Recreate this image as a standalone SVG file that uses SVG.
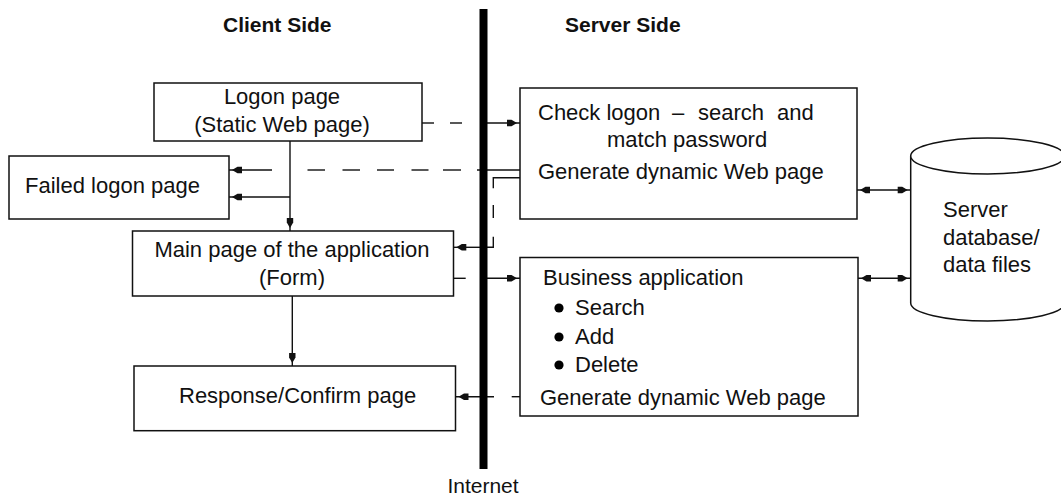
<svg xmlns="http://www.w3.org/2000/svg" width="1061" height="498" viewBox="0 0 1061 498">
<style>
.box{fill:#fff;stroke:#111;stroke-width:1.5}
.t{font-family:"Liberation Sans",Arial,sans-serif;font-size:22px;fill:#111}
.h{font-family:"Liberation Sans",Arial,sans-serif;font-size:21px;font-weight:bold;fill:#111}
.ln{stroke:#111;stroke-width:1.4;fill:none}
.arr{marker-end:url(#ah)}
.dbl{marker-start:url(#ah);marker-end:url(#ah)}
</style>
<defs>
<marker id="ah" viewBox="0 0 10 8" markerWidth="10" markerHeight="8" refX="13" refY="4" orient="auto-start-reverse" markerUnits="userSpaceOnUse" overflow="visible">
<path d="M0,0.8 L4.5,0.8 L10,4 L4.5,7.2 L0,7.2 Z" fill="#111"/>
</marker>
</defs>
<rect width="1061" height="498" fill="#fff"/>

<g id="headings">
<text class="h" x="223" y="32">Client Side</text>
<text class="h" x="565" y="32">Server Side</text>
</g>

<g id="connectors">
<!-- Logon -> Check logon -->
<line class="ln" x1="422" y1="123" x2="434" y2="123"/>
<line class="ln" x1="450" y1="123" x2="462" y2="123"/>
<line class="ln arr" x1="487" y1="123" x2="520" y2="123"/>
<!-- Logon -> Main -->
<line class="ln arr" x1="290" y1="141" x2="290" y2="231"/>
<line class="ln arr" x1="290" y1="197" x2="229" y2="197"/>
<!-- Check -> Failed logon -->
<line class="ln" x1="520" y1="170" x2="477" y2="170"/>
<line class="ln" x1="461" y1="170" x2="443" y2="170"/>
<line class="ln" x1="428.5" y1="170" x2="411.5" y2="170"/>
<line class="ln" x1="394" y1="170" x2="377" y2="170"/>
<line class="ln" x1="360" y1="170" x2="342.5" y2="170"/>
<line class="ln" x1="325" y1="170" x2="307.5" y2="170"/>
<line class="ln arr" x1="272" y1="170" x2="229" y2="170"/>
<!-- Check -> Main -->
<polyline class="ln" points="520,177.7 493.3,177.7 493.3,188.3"/>
<line class="ln" x1="493.3" y1="205" x2="493.3" y2="218"/>
<polyline class="ln" points="493.3,236.7 493.3,247.3 487,247.3"/>
<line class="ln arr" x1="483" y1="247.3" x2="453.3" y2="247.3"/>
<!-- Main -> Business -->
<line class="ln" x1="453.3" y1="278.3" x2="465.7" y2="278.3"/>
<line class="ln arr" x1="487" y1="278.3" x2="520" y2="278.3"/>
<!-- Main -> Response -->
<line class="ln arr" x1="292.3" y1="296" x2="292.3" y2="366"/>
<!-- Business -> Response -->
<line class="ln" x1="520" y1="396.7" x2="511.7" y2="396.7"/>
<line class="ln arr" x1="494" y1="396.7" x2="455.5" y2="396.7"/>
<!-- Server boxes <-> database -->
<line class="ln dbl" x1="857" y1="190" x2="910.7" y2="190"/>
<line class="ln dbl" x1="858" y1="278.3" x2="910.7" y2="278.3"/>
</g>

<g id="internet">
<rect x="479.5" y="9" width="8" height="460" fill="#000"/>
<text class="t" x="483" y="493" text-anchor="middle" style="font-size:21px">Internet</text>
</g>

<g id="logon">
<rect class="box" x="154" y="83" width="268" height="58"/>
<text class="t" x="282" y="104" text-anchor="middle">Logon page</text>
<text class="t" x="282" y="132" text-anchor="middle">(Static Web page)</text>
</g>

<g id="failed-logon">
<rect class="box" x="9" y="156" width="220" height="63"/>
<text class="t" x="25" y="193">Failed logon page</text>
</g>

<g id="main-page">
<rect class="box" x="132.5" y="231" width="321" height="65"/>
<text class="t" x="292" y="257" text-anchor="middle">Main page of the application</text>
<text class="t" x="292" y="285" text-anchor="middle">(Form)</text>
</g>

<g id="response-page">
<rect class="box" x="134" y="366" width="321.5" height="64.7"/>
<text class="t" x="179" y="403">Response/Confirm page</text>
</g>

<g id="check-logon">
<rect class="box" x="520" y="88" width="337" height="131"/>
<text class="t" y="120"><tspan x="538">Check logon</tspan><tspan x="672">–</tspan><tspan x="698">search</tspan><tspan x="777">and</tspan></text>
<text class="t" x="607" y="147">match password</text>
<text class="t" x="538" y="179">Generate dynamic Web page</text>
</g>

<g id="business-app">
<rect class="box" x="520" y="257.5" width="338" height="158.5"/>
<text class="t" x="543" y="285">Business application</text>
<circle cx="559" cy="308" r="4.6" fill="#000"/>
<text class="t" x="575" y="315">Search</text>
<circle cx="559" cy="337" r="4.6" fill="#000"/>
<text class="t" x="575" y="344">Add</text>
<circle cx="559" cy="365" r="4.6" fill="#000"/>
<text class="t" x="575" y="372">Delete</text>
<text class="t" x="540" y="405">Generate dynamic Web page</text>
</g>

<g id="database">
<path class="box" d="M910.7,156 L910.7,303 A77,18 0 0 0 1064.7,303 L1064.7,156"/>
<ellipse class="box" cx="987.7" cy="156" rx="77" ry="18"/>
<text class="t" x="943" y="217">Server</text>
<text class="t" x="943" y="245">database/</text>
<text class="t" x="943" y="272">data files</text>
</g>
</svg>
